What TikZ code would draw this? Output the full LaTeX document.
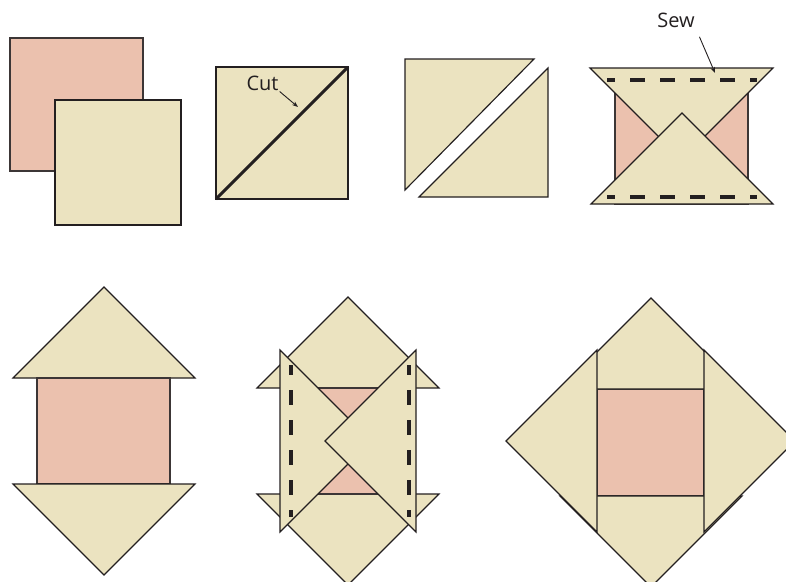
\documentclass[tikz,border=0pt]{standalone}
\usepackage{xcolor,tikz}
\usepackage{fontspec}
\setmainfont{Open Sans}
\usetikzlibrary{positioning,calc,arrows.meta}
\definecolor{quiltPinkBg}{HTML}{EBC1AE}
\definecolor{quiltCreamBg}{HTML}{EBE3C0}
\definecolor{quiltLine}{HTML}{231F20}
\definecolor{quiltEdge}{HTML}{3C3636}
\tikzset{
  patch cream/.style={
    fill=quiltCreamBg, draw=quiltLine,
    line width=1.15pt, line join=miter,
  },
  patch pink/.style={
    fill=quiltPinkBg, draw=quiltEdge,
    line width=1.4pt,
  },
  stitch line/.style={
    draw=quiltLine, line width=3.1pt,
    dash pattern=on 15pt off 15pt,
  },
  cut line/.style={draw=quiltLine, line width=3pt},
  note label/.style={
    inner sep=1pt, text=quiltLine,
    font=\fontsize{20}{23}\selectfont,
  },
  note arrow/.style={
    draw=quiltLine, line width=0.9pt,
    -{Stealth[length=6pt,width=4.5pt]},
  },
}

\begin{document}
\begin{tikzpicture}[x=1pt, y=-1pt]
\useasboundingbox (0,0) rectangle (786,581);

%% Step 1 -- two squares, one pink, one cream ========================
\draw[patch pink]  (10,38) rectangle (143,171);
\draw[patch cream] (55,100) rectangle (181,225);

%% Step 2 -- cut the cream square on the diagonal ====================
\draw[patch cream] (216,67) rectangle (348,199);
\draw[cut line] (216,199) -- (348,67);
\node[note label] (cutlabel) at (262.5,83) {Cut};
\coordinate (cutpoint) at (298,107);
\draw[note arrow] (cutlabel.south east) -- (cutpoint);

%% Step 3 -- the two halves pulled apart =============================
\draw[patch cream] (405,59) -- (534,59) -- (405,190) -- cycle;
\draw[patch cream] (548,68) -- (548,197) -- (419,197) -- cycle;

%% Step 4 -- halves laid on the pink square and sewn ================
\draw[patch pink]  (615,71) rectangle (748,204);
\draw[patch cream] (590,68) -- (773,68) -- (681.5,159.5) -- cycle;
\draw[patch cream] (591,204) -- (773,204) -- (682,113) -- cycle;
\draw[stitch line, dash phase=7pt] (607,80) -- (757,80);
\draw[stitch line, dash phase=7pt] (607,197) -- (757,197);
\node[note label] (sewlabel) at (676,20) {Sew};
\coordinate (sewpoint) at (715,73);
\draw[note arrow, shorten <=9pt] (sewlabel.south east) -- (sewpoint);

%% Step 5 -- triangles pressed open ==================================
\draw[patch cream] (13,378) -- (195,378) -- (104,287) -- cycle;
\draw[patch pink]  (37,378) rectangle (170,484);
\draw[patch cream] (13,484) -- (195,484) -- (104,575) -- cycle;

%% Step 6 -- second pair of triangles laid on the sides =============
\draw[patch cream] (257,388) -- (439,388) -- (348,297) -- cycle;
\draw[patch cream] (257,494) -- (439,494) -- (348,585) -- cycle;
\draw[patch pink]  (282,388) rectangle (415,494);
\draw[patch cream] (280,350) -- (280,532) -- (371,441) -- cycle;
\draw[patch cream] (416,350) -- (416,532) -- (325,441) -- cycle;
\draw[stitch line, dash phase=5pt] (291,365) -- (291,517);
\draw[stitch line, dash phase=5pt] (409,365) -- (409,517);

%% Step 7 -- finished square-in-a-square block ======================
\draw[patch pink]  (597,389) rectangle (704,496);
\draw[patch cream] (560,389) -- (742,389) -- (651,298) -- cycle;
\draw[patch cream] (560,496) -- (742,496) -- (651,587) -- cycle;
\draw[patch cream] (597,350) -- (597,532) -- (506,441) -- cycle;
\draw[patch cream] (704,350) -- (704,532) -- (795,441) -- cycle;

\end{tikzpicture}
\end{document}
